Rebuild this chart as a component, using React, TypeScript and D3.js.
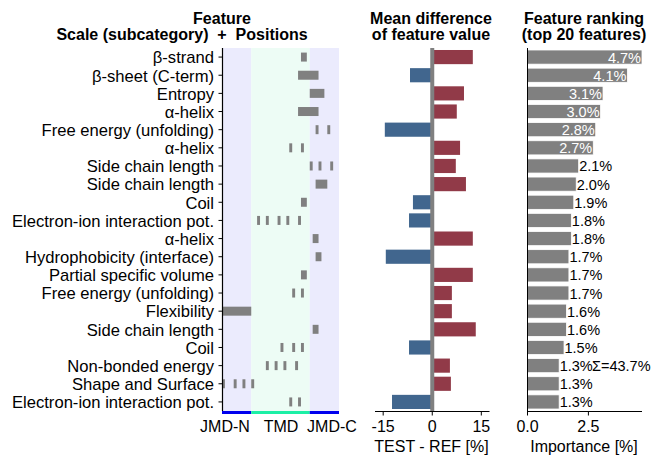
import React from 'react';
import * as d3 from 'd3';

// Feature scales (rows, top to bottom)
const scales = [
  'β-strand',
  'β-sheet (C-term)',
  'Entropy',
  'α-helix',
  'Free energy (unfolding)',
  'α-helix',
  'Side chain length',
  'Side chain length',
  'Coil',
  'Electron-ion interaction pot.',
  'α-helix',
  'Hydrophobicity (interface)',
  'Partial specific volume',
  'Free energy (unfolding)',
  'Flexibility',
  'Side chain length',
  'Coil',
  'Non-bonded energy',
  'Shape and Surface',
  'Electron-ion interaction pot.',
];

// Residue positions (0-based, 0..39) marked for each feature
const positions = [
  [27, 28],
  [26, 27, 28, 29, 30, 31, 32],
  [30, 31, 32, 33, 34],
  [26, 27, 28, 29, 30, 31, 32],
  [32, 36],
  [23, 27],
  [30, 33, 37],
  [32, 33, 34, 35],
  [27, 28],
  [12, 15, 19, 22, 26],
  [31, 32],
  [32, 33],
  [27, 28],
  [24, 27],
  [0, 1, 2, 3, 4, 5, 6, 7, 8, 9],
  [31, 32],
  [20, 24, 27],
  [15, 18, 21, 25],
  [0, 4, 7, 10],
  [23, 26],
];

// Mean difference TEST - REF [%]
const meanDiff = [12.4, -6.8, 9.7, 7.5, -14.5, 8.5, 7.2, 10.3, -5.9, -7.1, 12.4, -14.2, 12.4, 6.0, 6.0, 13.3, -7.1, 5.4, 5.7, -12.3];

// Feature importance [%]
const importance = [4.7, 4.1, 3.1, 3.0, 2.8, 2.7, 2.1, 2.0, 1.9, 1.8, 1.8, 1.7, 1.7, 1.7, 1.6, 1.6, 1.5, 1.3, 1.3, 1.3];

const parts = [
  { name: 'JMD-N', start: 0, end: 10, bg: '#ebebfd', line: '#0000ee' },
  { name: 'TMD', start: 10, end: 30, bg: '#edfcf5', line: '#1cefa5' },
  { name: 'JMD-C', start: 30, end: 40, bg: '#ebebfd', line: '#0000ee' },
];
const partLabels = [
  { text: 'JMD-N', x: 225 },
  { text: 'TMD', x: 281 },
  { text: 'JMD-C', x: 332 },
];

const diffTicks = [-15, 0, 15];
const impTicks = [0, 2.5];

const font = '"Liberation Sans", Arial, sans-serif';

// group consecutive positions into [start, end) runs
function toRuns(ps: number[]) {
  const runs: [number, number][] = [];
  ps.forEach(p => {
    const last = runs[runs.length - 1];
    if (last && last[1] === p) last[1] = p + 1;
    else runs.push([p, p + 1]);
  });
  return runs;
}

export default function App() {
  const top = 48;
  const bottom = 411;
  const rows = d3.range(scales.length);

  const y = d3.scaleBand<number>().domain(rows).range([top, bottom]).paddingInner(0.22).paddingOuter(0.11);
  const yc = (i: number) => (y(i) as number) + y.bandwidth() / 2;

  const xPos = d3.scaleLinear().domain([0, 40]).range([222, 339]);
  const xDiff = d3.scaleLinear().domain([-17.5, 17.5]).range([375, 489.5]);
  const xImp = d3.scaleLinear().domain([0, 4.7]).range([527.5, 642]);

  const posH = 9;
  const tickY = 432;
  const labelY = 452;

  return (
    <svg width={662} height={466} style={{ position: 'absolute', left: 0, top: 0, fontFamily: font }}>
      {/* titles */}
      <g fontWeight="bold" fontSize={16} textAnchor="middle" fill="#000">
        <text x={222} y={23.5}>Feature</text>
        <text x={182} y={40}>{'Scale (subcategory)\u00a0\u00a0+\u00a0\u00a0Positions'}</text>
        <text x={431} y={23.5}>Mean difference</text>
        <text x={431} y={40}>of feature value</text>
        <text x={584} y={23.5}>Feature ranking</text>
        <text x={584} y={40}>(top 20 features)</text>
      </g>

      {/* left panel: positions */}
      {parts.map(p => (
        <rect key={p.name} x={xPos(p.start)} y={top} width={xPos(p.end) - xPos(p.start)} height={bottom - top} fill={p.bg} />
      ))}
      {positions.map((ps, i) =>
        toRuns(ps).map(([s, e]) => (
          <rect key={`${i}-${s}`} x={xPos(s)} y={yc(i) - posH / 2} width={xPos(e) - xPos(s)} height={posH} fill="#808080" />
        ))
      )}
      {parts.map(p => (
        <line key={`l-${p.name}`} x1={xPos(p.start)} x2={xPos(p.end)} y1={bottom + 1.5} y2={bottom + 1.5} stroke={p.line} strokeWidth={3} />
      ))}
      <line x1={222.5} x2={222.5} y1={top} y2={bottom} stroke="#000" strokeWidth={1.2} />
      {rows.map(i => (
        <g key={`t-${i}`}>
          <line x1={218.5} x2={222.5} y1={yc(i)} y2={yc(i)} stroke="#000" strokeWidth={1} />
          <text x={214} y={yc(i) + 6.3} textAnchor="end" fontSize={16.6}>{scales[i]}</text>
        </g>
      ))}
      <g fontSize={16} textAnchor="middle">
        {partLabels.map(p => (
          <text key={p.text} x={p.x} y={tickY}>{p.text}</text>
        ))}
      </g>

      {/* middle panel: mean difference */}
      {meanDiff.map((v, i) => (
        <rect
          key={`d-${i}`}
          x={Math.min(xDiff(0), xDiff(v))}
          y={y(i)}
          width={Math.abs(xDiff(v) - xDiff(0))}
          height={y.bandwidth()}
          fill={v > 0 ? '#913a48' : '#41668e'}
        />
      ))}
      <line x1={xDiff(0)} x2={xDiff(0)} y1={top} y2={bottom} stroke="#808080" strokeWidth={4} />
      <line x1={375} x2={489.5} y1={bottom + 0.5} y2={bottom + 0.5} stroke="#000" strokeWidth={1} />
      {diffTicks.map(t => (
        <g key={`dt-${t}`}>
          <line x1={xDiff(t)} x2={xDiff(t)} y1={bottom} y2={bottom + 4.5} stroke="#000" />
          <text x={xDiff(t)} y={tickY} textAnchor="middle" fontSize={16}>{t}</text>
        </g>
      ))}
      <text x={431.5} y={labelY} textAnchor="middle" fontSize={16}>TEST - REF [%]</text>

      {/* right panel: importance */}
      {importance.map((v, i) => (
        <g key={`i-${i}`}>
          <rect x={xImp(0)} y={y(i)} width={xImp(v) - xImp(0)} height={y.bandwidth()} fill="#808080" stroke="#fff" strokeWidth={0.8} />
          {v >= 2.5 ? (
            <text x={xImp(v) - 1} y={yc(i) + 5.5} textAnchor="end" fontSize={14.5} fill="#fff">{v.toFixed(1)}%</text>
          ) : (
            <text x={xImp(v) + 0.5} y={yc(i) + 5.5} textAnchor="start" fontSize={14.5} fill="#000">{v.toFixed(1)}%</text>
          )}
        </g>
      ))}
      <text x={592} y={yc(17) + 5.5} fontSize={14.5}>Σ={d3.sum(importance).toFixed(1)}%</text>
      <line x1={527.5} x2={527.5} y1={top} y2={bottom} stroke="#000" strokeWidth={1} />
      <line x1={527.5} x2={642} y1={bottom + 0.5} y2={bottom + 0.5} stroke="#000" strokeWidth={1} />
      {impTicks.map(t => (
        <g key={`it-${t}`}>
          <line x1={xImp(t)} x2={xImp(t)} y1={bottom} y2={bottom + 4.5} stroke="#000" />
          <text x={xImp(t)} y={tickY} textAnchor="middle" fontSize={16}>{t.toFixed(1)}</text>
        </g>
      ))}
      <text x={584} y={labelY} textAnchor="middle" fontSize={16}>Importance [%]</text>
    </svg>
  );
}
